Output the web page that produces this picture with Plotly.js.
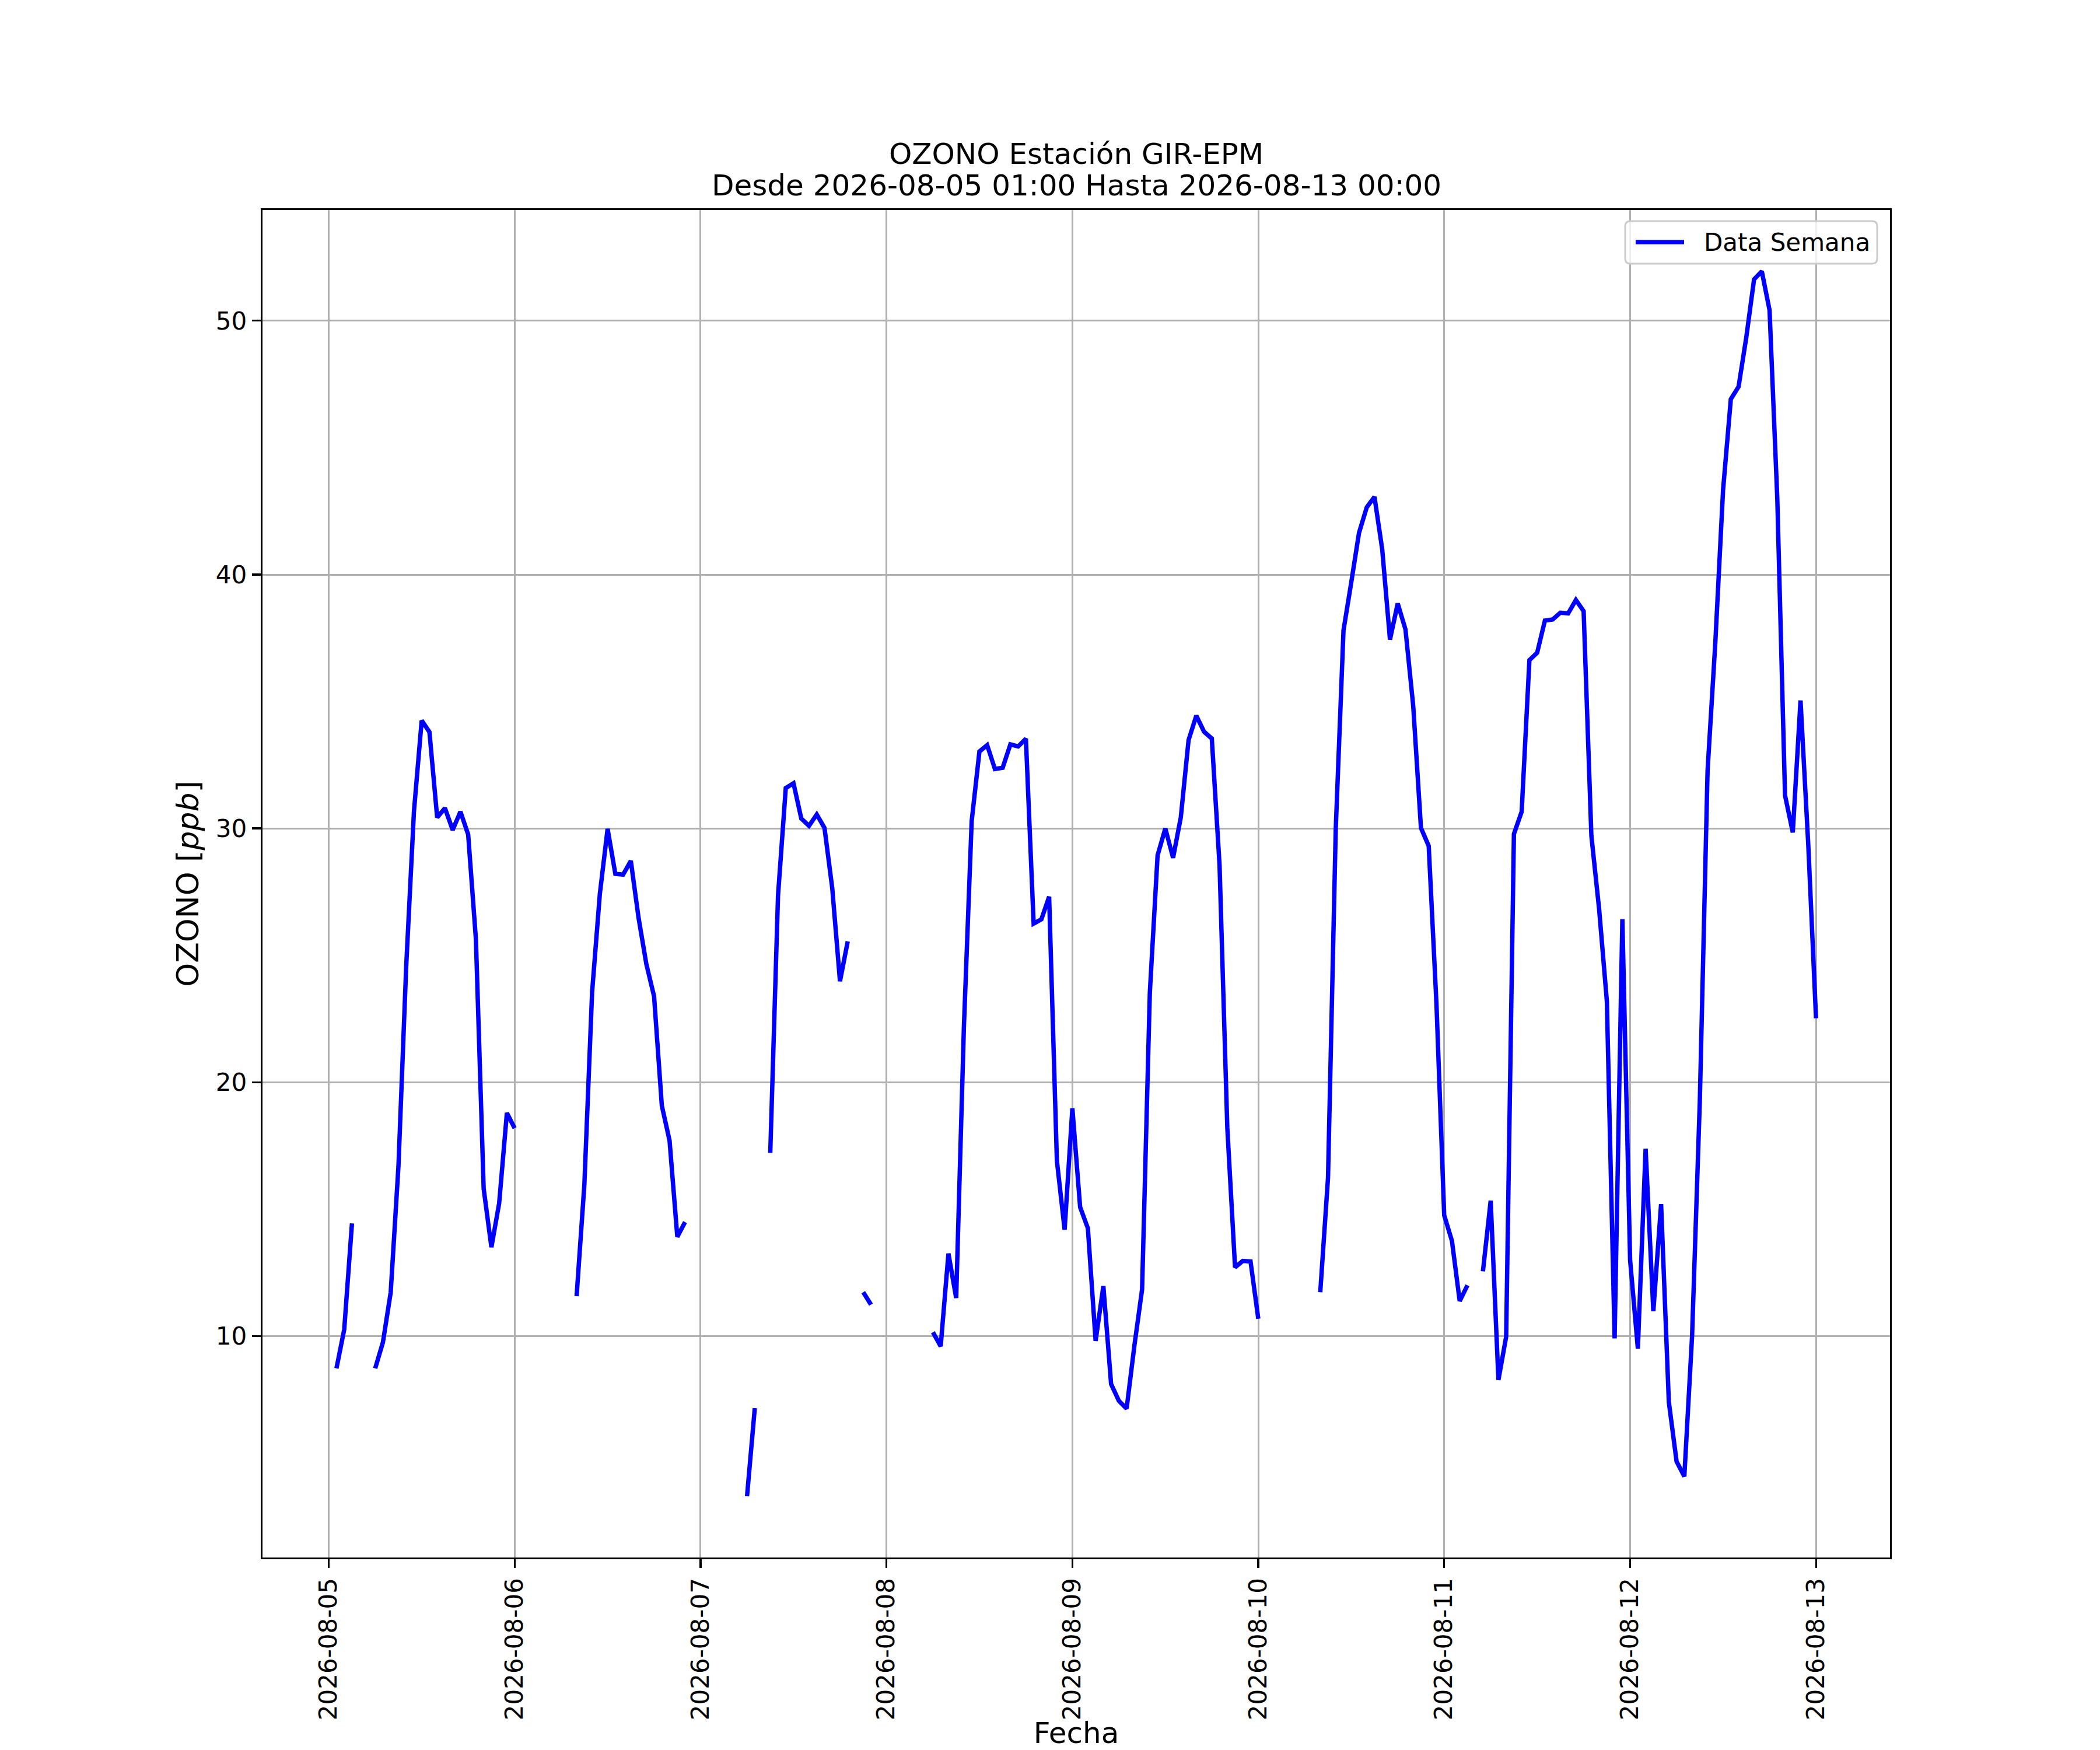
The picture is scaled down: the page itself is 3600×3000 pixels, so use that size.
<!DOCTYPE html>
<html>
<head>
<meta charset="utf-8">
<script src="https://cdn.plot.ly/plotly-3.0.1.min.js"></script>
<style>
  html, body { margin: 0; padding: 0; background: #fff; }
  #plot { width: 3600px; height: 3000px; }
</style>
</head>
<body>
<div id="plot"></div>
<script>
// days shown, each array holds the hours 01:00 .. 24:00 (24:00 = next day 00:00)
const days = ["2026-08-05", "2026-08-06", "2026-08-07", "2026-08-08",
              "2026-08-09", "2026-08-10", "2026-08-11", "2026-08-12"];

const o3Aug05 = [8.73, 10.26, 14.44, null, null, 8.73, 9.76, 11.72, 16.69, 24.56, 30.66, 34.25,
                 33.8, 30.43, 30.8, 29.94, 30.66, 29.76, 25.63, 15.81, 13.5, 15.23, 18.79, 18.19];
const o3Aug06 = [null, null, null, null, null, null, null, 11.57, 15.96, 23.55, 27.42, 29.98,
                 28.21, 28.18, 28.72, 26.47, 24.66, 23.39, 19.08, 17.7, 13.91, 14.49, null, null];
const o3Aug07 = [null, null, null, null, null, 3.69, 7.16, null, 17.22, 27.35, 31.59, 31.78,
                 30.39, 30.1, 30.55, 30.02, 27.65, 23.98, 25.55, null, 11.73, 11.24, null, null];
const o3Aug08 = [null, null, null, null, null, 10.15, 9.6, 13.25, 11.5, 22.21, 30.29, 33.03,
                 33.28, 32.34, 32.39, 33.31, 33.23, 33.53, 26.25, 26.42, 27.31, 16.91, 14.19, 18.97];
const o3Aug09 = [15.08, 14.25, 9.81, 11.97, 8.11, 7.45, 7.14, 9.61, 11.84, 23.53, 28.94, 30.0,
                 28.84, 30.44, 33.48, 34.44, 33.81, 33.54, 28.55, 18.21, 12.71, 12.96, 12.94, 10.68];
const o3Aug10 = [null, null, null, null, null, null, null, 11.73, 16.23, 29.98, 37.8, 39.69,
                 41.64, 42.65, 43.06, 40.99, 37.44, 38.86, 37.84, 34.83, 30.02, 29.31, 23.1, 14.76];
const o3Aug11 = [13.75, 11.38, 12.0, null, 12.55, 15.33, 8.27, 9.98, 29.78, 30.66, 36.63, 36.92,
                 38.19, 38.23, 38.5, 38.47, 39.0, 38.56, 29.71, 26.82, 23.19, 9.91, 26.42, 12.99];
const o3Aug12 = [9.51, 17.38, 10.98, 15.2, 7.4, 5.06, 4.47, 10.0, 19.27, 32.28, 37.32, 43.33,
                 46.91, 47.4, 49.35, 51.63, 51.95, 50.42, 43.0, 31.3, 29.84, 35.04, 29.35, 22.52];

const dailyValues = [o3Aug05, o3Aug06, o3Aug07, o3Aug08, o3Aug09, o3Aug10, o3Aug11, o3Aug12];

const titleLine1 = "OZONO Estación GIR-EPM";
const titleLine2 = "Desde 2026-08-05 01:00 Hasta 2026-08-13 00:00";
const seriesName = "Data Semana";

// build hourly series
const xs = [];
const ys = [];
days.forEach((d, i) => {
  const p = d.split("-").map(Number);
  dailyValues[i].forEach((v, h) => {
    const t = new Date(Date.UTC(p[0], p[1] - 1, p[2], h + 1));
    xs.push(t.toISOString().slice(0, 16).replace("T", " "));
    ys.push(v);
  });
});

// matplotlib-like 5% margins
const toMs = s => Date.parse(s.replace(" ", "T") + ":00Z");
const xMin = toMs(xs[0]), xMax = toMs(xs[xs.length - 1]);
const xPad = (xMax - xMin) * 0.05;
const fmt = ms => new Date(ms).toISOString().slice(0, 19).replace("T", " ");
const valid = ys.filter(v => v !== null);
const yMin = Math.min(...valid), yMax = Math.max(...valid);
const yPad = (yMax - yMin) * 0.05;

const FONT = "DejaVu Sans, Liberation Sans, sans-serif";
const W = 3600, H = 3000;
const M = { l: 450, r: 360, t: 360, b: 330 };
const PW = W - M.l - M.r, PH = H - M.t - M.b;
// pixel -> paper helpers (for legend box)
const px = x => (x - M.l) / PW;
const py = y => 1 - (y - M.t) / PH;

const trace = {
  x: xs,
  y: ys,
  type: "scatter",
  mode: "lines",
  name: seriesName,
  showlegend: false,
  line: { color: "#0000ff", width: 7.5 },
  connectgaps: false
};

const axisBase = {
  showline: true,
  mirror: true,
  linecolor: "#000",
  linewidth: 3.3,
  showgrid: true,
  gridcolor: "#b0b0b0",
  gridwidth: 3,
  zeroline: false,
  ticks: "outside",
  ticklen: 15,
  tickwidth: 3.3,
  tickcolor: "#000",
  tickfont: { family: FONT, size: 42, color: "#000" },
  automargin: false
};

// legend box, drawn like matplotlib's rounded frame
const bx0 = 2786, bx1 = 3218, by0 = 379, by1 = 452, rr = 9;
const rx = rr / PW, ry = rr / PH;
const legendPath = [
  "M", px(bx0) + rx, py(by0),
  "L", px(bx1) - rx, py(by0),
  "Q", px(bx1), py(by0), px(bx1), py(by0) - ry,
  "L", px(bx1), py(by1) + ry,
  "Q", px(bx1), py(by1), px(bx1) - rx, py(by1),
  "L", px(bx0) + rx, py(by1),
  "Q", px(bx0), py(by1), px(bx0), py(by1) + ry,
  "L", px(bx0), py(by0) - ry,
  "Q", px(bx0), py(by0), px(bx0) + rx, py(by0),
  "Z"
].join(" ");

const layout = {
  width: W,
  height: H,
  margin: M,
  paper_bgcolor: "#fff",
  plot_bgcolor: "#fff",
  font: { family: FONT, color: "#000" },
  showlegend: false,
  title: {
    text: titleLine1,
    font: { family: FONT, size: 50, color: "#000" },
    x: 0.5,
    xref: "paper",
    xanchor: "center",
    y: 1 - 263 / H,
    yref: "container",
    yanchor: "middle"
  },
  xaxis: Object.assign({}, axisBase, {
    type: "date",
    range: [fmt(xMin - xPad), fmt(xMax + xPad)],
    tick0: days[0],
    dtick: 86400000,
    tickformat: "%Y-%m-%d",
    tickangle: -90,
    title: { text: "Fecha", font: { family: FONT, size: 50, color: "#000" }, standoff: 39 }
  }),
  yaxis: Object.assign({}, axisBase, {
    range: [yMin - yPad, yMax + yPad],
    tick0: 0,
    dtick: 10,
    title: { text: "OZONO [<i>ppb</i>]", font: { family: FONT, size: 52, color: "#000" }, standoff: 13 }
  }),
  shapes: [
    {
      type: "path", xref: "paper", yref: "paper", layer: "above",
      path: legendPath,
      fillcolor: "rgba(255,255,255,0.8)",
      line: { color: "#cccccc", width: 3 }
    },
    {
      type: "line", xref: "paper", yref: "paper", layer: "above",
      x0: px(2804), x1: px(2887), y0: py(415), y1: py(415),
      line: { color: "#0000ff", width: 7.5 }
    }
  ],
  annotations: [
    {
      text: titleLine2, xref: "paper", yref: "paper",
      x: 0.5, y: py(318), xanchor: "center", yanchor: "middle",
      showarrow: false, font: { family: FONT, size: 50, color: "#000" }
    },
    {
      text: seriesName, xref: "paper", yref: "paper",
      x: px(2919), y: py(415), xanchor: "left", yanchor: "middle",
      showarrow: false, font: { family: FONT, size: 42, color: "#000" }
    }
  ]
};

Plotly.newPlot("plot", [trace], layout, { staticPlot: true, displayModeBar: false });
</script>
</body>
</html>
